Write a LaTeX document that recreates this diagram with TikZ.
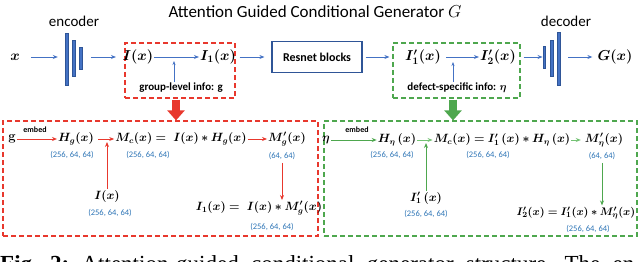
\documentclass[tikz,border=0pt]{standalone}
\usepackage{fontspec}
\usepackage{bm}
\newfontfamily\calf{Carlito}
\newfontfamily\capf{Liberation Serif}
\usetikzlibrary{arrows.meta}
\definecolor{ablue}{HTML}{4472C4}
\definecolor{dblue}{HTML}{2F5597}
\definecolor{ared}{HTML}{E8382D}
\definecolor{agreen}{HTML}{4EA74E}
\definecolor{lgreen}{HTML}{74C274}
\definecolor{dimblue}{HTML}{2E75B6}
\tikzset{
  ar/.style={-{Stealth[length=5pt,width=4pt]}, line width=0.9pt},
  mtop/.style={font=\fontsize{14}{16}\selectfont, inner sep=1pt},
  mbot/.style={font=\fontsize{11.5}{13}\selectfont, inner sep=1pt},
  dim/.style={font=\calf\fontsize{8.5}{9}\selectfont, text=dimblue, inner sep=1pt},
  emb/.style={font=\calf\bfseries\fontsize{8}{9}\selectfont, inner sep=1pt},
  bar/.style={draw=dblue, fill=ablue, line width=0.4pt, inner sep=0pt, minimum width=3pt},
  dbox/.style={draw, dash pattern=on 5pt off 3pt, line width=1.2pt, inner sep=0pt},
  fat/.style={line width=8pt, -{Triangle[width=17pt,length=10pt]}},
}
\begin{document}
\begin{tikzpicture}[x=1pt,y=-1pt]
\useasboundingbox (0,0) rectangle (640,262);
\clip (0,0) rectangle (640,262);
% ---------- top row ----------
\node[font=\calf\fontsize{17}{20}\selectfont] (title) at (315,12) {Attention Guided Conditional Generator $G$};
\node[font=\calf\fontsize{15}{18}\selectfont] (enc) at (74,21) {encoder};
\node[font=\calf\fontsize{15}{18}\selectfont] (dec) at (566,21) {decoder};
\node[mtop] (x) at (15,57) {$\bm{x}$};
\node[bar, minimum height=52pt] (e1) at (66.5,59) {};
\node[bar, minimum height=36pt] (e2) at (74,58.5) {};
\node[bar, minimum height=22pt, minimum width=2.5pt] (e3) at (80.5,58) {};
\draw[ar, ablue] ([xshift=10pt]x.east) -- ([xshift=-7pt]e1.west |- x.east);
\draw[ar, ablue] ([xshift=9pt]e3.east |- x.east) -- ++(25,0) coordinate (rbin);
\node[dbox, draw=ared, minimum width=110pt, minimum height=55pt] (rb) at (180,70.5) {};
\node[mtop] (Ix) at (138,57) {$\bm{I(x)}$};
\node[mtop] (I1) at (218,57) {$\bm{I_1(x)}$};
\draw[ar, ablue] (Ix.east) -- (I1.west);
\node[font=\calf\bfseries\fontsize{11}{13}\selectfont, inner sep=1pt] (gl) at (181,88) {group-level info: g};
\coordinate (j1) at (174,61);
\draw[-{Stealth[length=4pt,width=3pt]}, line width=0.6pt, ablue] (gl.north -| j1) -- (j1);
\node[draw=dblue, line width=1.2pt, minimum width=90pt, minimum height=31pt, font=\calf\bfseries\fontsize{12}{14}\selectfont] (rs) at (317,57) {Resnet blocks};
\draw[ar, ablue] ([xshift=4pt]rb.east |- rs.west) -- ([xshift=-7pt]rs.west);
\node[dbox, draw=agreen, minimum width=127pt, minimum height=55pt] (gb) at (456.5,70.5) {};
\draw[ar, ablue] ([xshift=3pt]rs.east) -- ([xshift=-3pt]gb.west |- rs.east);
\node[mtop] (I1p) at (423,57) {$\bm{I'_1(x)}$};
\node[mtop] (I2p) at (498,57) {$\bm{I'_2(x)}$};
\draw[ar, ablue] ([xshift=4pt]I1p.east) -- (I2p.west);
\node[font=\calf\bfseries\fontsize{11}{13}\selectfont, inner sep=1pt] (ds) at (457,88) {defect-specific info: $\bm{\eta}$};
\coordinate (j2) at (453,62);
\draw[-{Stealth[length=4pt,width=3pt]}, line width=0.6pt, ablue] (ds.north -| j2) -- (j2);
\node[bar, minimum height=22pt, minimum width=2.5pt] (d1) at (544,57) {};
\node[bar, minimum height=36pt] (d2) at (551.5,58) {};
\node[bar, minimum height=53pt] (d3) at (558.5,58.5) {};
\draw[ar, ablue] ([xshift=3pt]gb.east |- d1.west) -- (d1.west);
\node[mtop] (Gx) at (615,57) {$\bm{G(x)}$};
\draw[ar, ablue] ([xshift=8pt]d3.east |- Gx.west) -- ([xshift=-4pt]Gx.west);
% ---------- bottom boxes ----------
\node[dbox, draw=ared, minimum width=315pt, minimum height=115pt] (rbb) at (160.5,178.5) {};
\node[dbox, draw=agreen, minimum width=313pt, minimum height=115pt] (gbb) at (480.5,178.5) {};
\draw[fat, ared] ([xshift=-4pt,yshift=-1pt]rb.south) -- ([xshift=-4pt]rb.south |- rbb.north);
\draw[fat, agreen] ([yshift=-1pt]rb.south -| j2) -- (j2 |- gbb.north);
% red content
\node[font=\bfseries\fontsize{13}{15}\selectfont, inner sep=1pt] (g) at (12,139) {g};
\node[emb] (em1) at (35,130) {embed};
\node[mbot] (Hg) at (76,139) {$\bm{H_g(x)}$};
\node[dim] (dHg) at (72,155) {(256, 64, 64)};
\draw[ar, ared] (g.east) -- (Hg.west);
\node[mbot] (Mc) at (181,139) {$\bm{M_c(x) = \ I(x) * H_g(x)}$};
\node[dim] (dMc) at (148,155) {(256, 64, 64)};
\draw[ar, ared] ([xshift=3pt]Hg.east) -- (Mc.west);
\node[mbot] (Ix2) at (107,196) {$\bm{I(x)}$};
\node[dim] (dIx2) at (110,213) {(256, 64, 64)};
\coordinate (j3) at (107,142);
\draw[ar, ared] (Ix2.north) -- (j3);
\node[mbot] (Mg) at (287,139) {$\bm{M'_g(x)}$};
\node[dim] (dMg) at (282,156) {(64, 64)};
\draw[ar, ared] (Mc.east) -- (Mg.west);
\node[mbot] (I1eq) at (259,208) {$\bm{I_1(x) = \ I(x) * M'_g(x)}$};
\node[dim] (dI1) at (272,227) {(256, 64, 64)};
\draw[ar, ared] ([yshift=-2pt]dMg.south) -- (dMg.south |- I1eq.north);
% green content
\node[mbot] (eta) at (326,140) {$\bm{\eta}$};
\node[emb] (em2) at (357,130) {embed};
\node[mbot] (He) at (397,140) {$\bm{H_\eta\,(x)}$};
\node[dim] (dHe) at (392,155) {(256, 64, 64)};
\draw[ar, agreen] (eta.east) -- (He.west);
\node[mbot] (Mc2) at (502,140) {$\bm{M_c(x) = I'_1\,(x) * H_\eta\,(x)}$};
\node[dim] (dMc2) at (488,155) {(256, 64, 64)};
\draw[ar, lgreen] (He.east) -- (Mc2.west);
\node[mbot] (I1p2) at (426,198) {$\bm{I'_1\,(x)}$};
\node[dim] (dI1p2) at (426,214) {(256, 64, 64)};
\coordinate (j4) at (426,143);
\draw[ar, agreen] (I1p2.north) -- (j4);
\node[mbot] (Me) at (604,140) {$\bm{M'_\eta(x)}$};
\node[dim] (dMe) at (602,156) {(64, 64)};
\draw[ar, lgreen] (Mc2.east) -- ([xshift=-3pt]Me.west);
\node[mbot, font=\fontsize{11}{13}\selectfont] (I2eq) at (576,213) {$\bm{I'_2(x) = I'_1(x) * M'_\eta(x)}$};
\node[dim] (dI2) at (588,229) {(256, 64, 64)};
\draw[ar, agreen] ([yshift=-2pt]dMe.south) -- (dMe.south |- I2eq.north);
% caption (cut off by the lower edge)
\node[anchor=base west, inner sep=0pt, font=\capf\fontsize{23}{27}\selectfont] (cap) at (0,271) {\hbox to 634pt{\textbf{Fig.}\hfil\textbf{2:}\hfil Attention-guided\hfil conditional\hfil generator\hfil structure.\hfil The\hfil en}};
\end{tikzpicture}
\end{document}
